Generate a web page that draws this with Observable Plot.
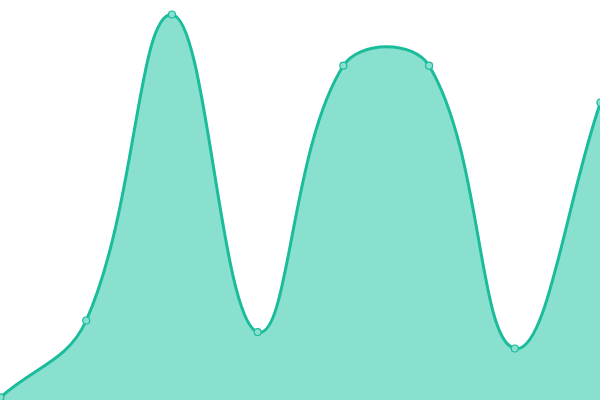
<!DOCTYPE html>
<html>
<head>
<meta charset="utf-8">
<script src="https://cdn.jsdelivr.net/npm/d3@7"></script>
<script src="https://cdn.jsdelivr.net/npm/@observablehq/plot@0.6"></script>
<style>
html, body { margin: 0; padding: 0; background: #fff; }
svg { display: block; }
</style>
</head>
<body>
<div id="chart"></div>
<script>
const xs = [0, 1, 2, 3, 4, 5, 6, 7];
const values = [0.8, 20, 96.5, 17.1, 83.7, 83.7, 13, 74.5];
const data = xs.map((x, i) => ({x, y: values[i]}));

// Spline curve with distance-weighted control points (tension 0.4)
function SplineCurve(context, t) { this._context = context; this._t = t; }
SplineCurve.prototype = {
  areaStart() { this._line = 0; },
  areaEnd() { this._line = NaN; },
  lineStart() { this._px = []; this._py = []; },
  point(x, y) { this._px.push(+x); this._py.push(+y); },
  lineEnd() {
    const X = this._px, Y = this._py, n = X.length, ctx = this._context, t = this._t;
    if (n) {
      if (this._line) ctx.lineTo(X[0], Y[0]); else ctx.moveTo(X[0], Y[0]);
      if (n === 2) ctx.lineTo(X[1], Y[1]);
      else if (n > 2) {
        const cp = [];
        for (let i = 0; i < n; i++) {
          const a = Math.max(i - 1, 0), b = Math.min(i + 1, n - 1);
          const d01 = Math.hypot(X[i] - X[a], Y[i] - Y[a]);
          const d12 = Math.hypot(X[b] - X[i], Y[b] - Y[i]);
          let s01 = d01 / (d01 + d12), s12 = d12 / (d01 + d12);
          if (isNaN(s01)) s01 = 0;
          if (isNaN(s12)) s12 = 0;
          const fa = t * s01, fb = t * s12;
          const dx = X[b] - X[a], dy = Y[b] - Y[a];
          cp.push([X[i] - fa * dx, Y[i] - fa * dy, X[i] + fb * dx, Y[i] + fb * dy]);
        }
        for (let i = 1; i < n; i++) {
          ctx.bezierCurveTo(cp[i - 1][2], cp[i - 1][3], cp[i][0], cp[i][1], X[i], Y[i]);
        }
      }
    }
    if (this._line || (this._line !== 0 && n === 1)) ctx.closePath();
    this._line = 1 - this._line;
  }
};
const spline = (context) => new SplineCurve(context, 0.4);

const chart = Plot.plot({
  width: 600,
  height: 400,
  margin: 0,
  x: {domain: [0, 7], range: [0, 600], axis: null},
  y: {domain: [0, 100], range: [400, 0], axis: null},
  marks: [
    Plot.areaY(data, {x: "x", y: "y", curve: spline, fill: "#8ae0cf", fillOpacity: 1}),
    Plot.lineY(data, {x: "x", y: "y", curve: spline, stroke: "#1abc9c", strokeWidth: 3}),
    Plot.dot(data, {x: "x", y: "y", r: 3.5, fill: "#8ae0cf", stroke: "#1abc9c", strokeWidth: 1.2})
  ]
});
document.getElementById("chart").appendChild(chart);
</script>
</body>
</html>
